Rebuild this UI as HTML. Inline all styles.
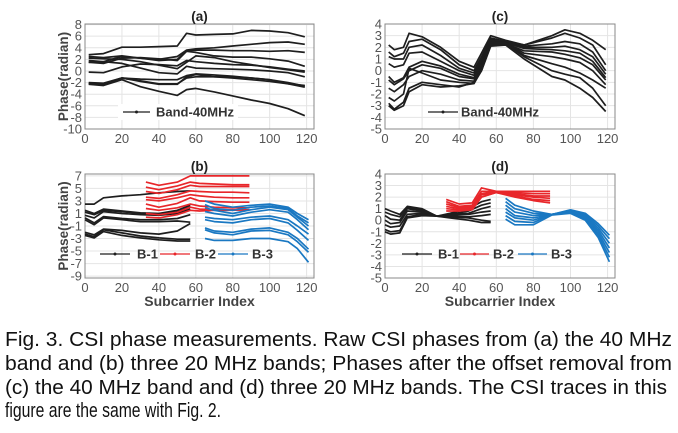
<!DOCTYPE html>
<html><head><meta charset="utf-8"><style>
body{margin:0;background:#fff;width:678px;height:428px;overflow:hidden}
svg text{font-family:"Liberation Sans",Arial,sans-serif}
</style></head><body>
<svg id="fig" width="678" height="428" viewBox="0 0 678 428">
<text x="5" y="346" font-size="20" textLength="667" lengthAdjust="spacingAndGlyphs" fill="#111">Fig. 3. CSI phase measurements. Raw CSI phases from (a) the 40 MHz</text>
<text x="5" y="370" font-size="20" textLength="667" lengthAdjust="spacingAndGlyphs" fill="#111">band and (b) three 20 MHz bands; Phases after the offset removal from</text>
<text x="5" y="394" font-size="20" textLength="662" lengthAdjust="spacingAndGlyphs" fill="#111">(c) the 40 MHz band and (d) three 20 MHz bands. The CSI traces in this</text>
<text x="5" y="417" font-size="20" textLength="216" lengthAdjust="spacingAndGlyphs" fill="#111">figure are the same with Fig. 2.</text>
</svg>
<script>
// ---- data ----
const xTicks = [0,20,40,60,80,100,120];
const aX = [2,10,20,30,40,50,55,60,70,80,90,100,110,119];
const aSeries = [
[2.8,3,4.1,4.1,4.2,4.3,6.5,6.2,6.3,6.4,7,6.9,6.6,5.9],
[2.5,2.3,2.6,2.2,2,2.5,3.6,3.8,4,4.3,4.6,4.9,5,4.6],
[1.8,1.6,2.5,2.2,1.8,2,3.5,3.6,3.6,3.5,3.5,3.4,3.5,3.2],
[1.5,1.3,2.2,2.3,2.1,1.8,3.4,3.2,2.6,2.4,2.4,2.1,1.7,0.8],
[2.2,2.1,2,1.6,1,0.4,1.5,2.6,2.3,1.6,1.1,0.6,0.2,-0.2],
[-0.2,-0.3,0.7,1.2,1.1,0.9,1.8,1.6,1.3,1.1,1,0.7,0.3,0],
[1.5,1.6,1.3,0.5,-0.3,-0.5,0.8,0.5,0.4,0.3,0.2,0,-0.3,-1],
[-2,-2.1,-1.2,-1.4,-1.5,-1.5,-0.8,-0.5,-0.7,-0.9,-1.2,-1.5,-2,-2.6],
[-2.2,-2.3,-1.2,-1.7,-2.2,-2.2,-1.2,-1,-1,-1,-1.2,-1.5,-2.2,-2.8],
[-2.3,-2.5,-1.5,-2.7,-3.5,-4.2,-3.2,-3,-3.6,-4.3,-5,-5.6,-6.5,-7.7],
[-2.1,-2.2,-1.2,-1.8,-2.3,-2.3,-1,-0.6,-1,-1.2,-1.5,-1.8,-2.2,-2.5]];
const aTicks = [8,6,4,2,0,-2,-4,-6,-8,-10];

const bX1 = [0,5,10,20,30,40,50,57];
const bX2 = [33,40,50,57,62,70,80,89];
const bX3 = [65,70,80,90,100,110,115,121];
const bB1 = [
[2.5,2.5,3.5,3.8,4,4.3,4.5,4.6],[1.5,1,1.7,1.4,1.1,1,1.5,2.3],[1.2,0.8,1.5,1.3,1,0.8,1.3,2],
[0.7,0.3,1.3,1,0.8,0.7,1,1.7],[0.3,-0.5,0.5,0.2,0,0,0.2,0.8],[0,-0.8,0.3,0,-0.3,-0.3,-0.2,-0.4],
[-2,-2.4,-1.5,-1.7,-2.1,-2.3,-1.8,-0.6],[-2.3,-2.7,-1.6,-2.1,-2.6,-2.9,-3.1,-3.1],[-2.5,-2.9,-1.9,-2.5,-2.9,-3.2,-3.4,-3.4]];
const bB2 = [
[6,5.5,6,7,7,7,7,7],[5.2,4.8,5.4,6,5.8,5.7,5.6,5.6],[4.5,4.2,4.8,5.5,5.3,5.3,5.3,5.3],
[3.6,3.4,4,4.6,4.5,4.4,4.4,4.3],[3.2,3,3.5,4,3.8,3.6,3.5,3.5],[2.5,2,2.6,3.5,3,2.9,2.8,2.8],
[1.8,1.5,1.9,2.5,2.2,2,1.9,1.9],[1,0.8,1.2,2,1.7,1.6,1.6,1.5],[0.4,0.3,0.8,1.5,1.4,1.5,1.5,1.6]];
const bB3 = [
[3,2.5,2,2.3,2.5,2,1,0],[2.4,1.8,1.5,2,2.2,1.8,0.6,-0.5],[1.9,1.5,1,1.6,2,1.6,0.4,-1],
[1.3,1,0.6,1.2,1.6,1.2,0,-1.6],[0.4,0.2,0,0.4,0.6,0,-1,-2.3],[0,-0.3,-0.5,0,0.2,-0.5,-1.7,-3.3],
[-1.3,-1.8,-2,-1.5,-1.3,-2,-3,-4.7],[-1.6,-2.1,-2.4,-1.8,-1.7,-2.4,-3.5,-5.2],[-3,-3.3,-3.3,-3,-3,-3.5,-4.6,-6.8]];
const bTicks = [7,5,3,1,-1,-3,-5,-7,-9];

const cX = [2,5,10,13,20,30,40,48,52,57,65,75,90,97,105,112,119];
const cSeries = [
[2.2,1.8,2,3.2,2.9,2,0.8,0.3,1.5,3,2.6,2.2,3,3.5,3.2,2.6,1.8],
[1.6,1.2,1.5,2.5,2.7,1.8,0.5,0,1.2,2.8,2.5,2.2,2.8,3.2,2.8,2.2,0.5],
[1.2,1,1,2,2.2,1.3,0.2,-0.2,1,2.7,2.5,2.1,2.3,2.5,2.3,1.6,0],
[0.6,0.3,0.5,1.5,1.6,0.8,0,-0.4,0.8,2.6,2.4,2,2,2.1,1.8,1.2,-0.3],
[-0.5,-1,-0.6,0.3,0.8,0.4,-0.3,-0.6,0.6,2.5,2.4,1.9,1.8,1.7,1.5,0.8,-0.6],
[-0.8,-1.2,-0.7,0,0.5,0.2,-0.5,-0.7,0.5,2.4,2.3,1.7,1.6,1.4,1.1,0.5,-0.8],
[-1.5,-1.8,-1.2,-0.5,0,-0.3,-0.8,-0.9,0.3,2.3,2.4,1.5,1.2,1,0.7,0,-1.2],
[-2.3,-2.6,-2,0.2,-0.2,-0.8,-1,-1.1,0.2,2.4,2.4,1.3,0.6,0.3,-0.2,-0.8,-1.5],
[-2.8,-3.3,-2.7,-1.5,-1,-1.2,-1.4,-1,0,2.2,2.3,1.2,0,-0.3,-0.6,-1.5,-3],
[-3,-3.4,-3,-1.8,-1.2,-1.4,-1.3,-1.1,0,2.1,2.2,1,-0.5,-0.8,-1.5,-2.3,-3.5]];
const cTicks = [4,3,2,1,0,-1,-2,-3,-4,-5];

const dX1 = [0,3,8,12,20,28,35,45,52,57];
const dX2 = [33,40,47,52,60,70,80,89];
const dX3 = [65,70,80,90,100,108,115,121];
const dB1 = [
[1,0.8,0.5,1.2,1,0.35,0.6,1,1.6,1.8],[0.7,0.5,0.3,1.1,0.9,0.35,0.5,0.8,1.3,1.5],
[0.4,0.1,0,1,0.8,0.35,0.5,0.6,1,1.2],[0,-0.3,-0.2,0.8,0.7,0.35,0.4,0.5,0.7,0.8],
[-0.4,-0.6,-0.5,0.5,0.6,0.35,0.3,0.3,0.4,0.5],[-0.8,-1,-0.9,0.3,0.5,0.35,0.3,0.2,0,-0.1],
[-1,-1.2,-1.1,0.2,0.4,0.35,0.2,0,-0.2,-0.2]];
const dB2 = [
[1.8,1.4,1.5,2.8,2.5,2.5,2.5,2.5],[1.6,1.2,1.3,2.5,2.5,2.4,2.3,2.3],[1.4,1.1,1.2,2.3,2.5,2.3,2.1,2.1],
[1.2,1,1.1,2.2,2.4,2.2,2,1.9],[1,0.9,1,2,2.4,2.1,1.8,1.7],[0.8,0.8,0.9,2,2.4,2,1.7,1.5]];
const dB3 = [
[1.9,1.3,0.8,0.5,0.9,0.6,-0.3,-1.3],[1.6,1,0.6,0.5,0.85,0.5,-0.5,-1.6],[1.3,0.7,0.4,0.5,0.8,0.4,-0.7,-2],
[1,0.4,0.2,0.5,0.75,0.3,-0.9,-2.4],[0.7,0.2,0,0.5,0.7,0.2,-1.1,-2.8],[0.4,-0.1,-0.2,0.5,0.65,0.1,-1.3,-3.2],
[0.1,-0.4,-0.4,0.45,0.6,0,-1.5,-3.6]];
const dTicks = [4,3,2,1,0,-1,-2,-3,-4,-5];

// ---- drawing ----
const NS='http://www.w3.org/2000/svg';
const svg=document.getElementById('fig');
function mk(tag,attrs,parent){const e=document.createElementNS(NS,tag);for(const k in attrs)e.setAttribute(k,attrs[k]);(parent||svg).appendChild(e);return e;}
function panel(name,L,R,T,B,xmin,xmax,ymin,ymax,yTicks,title,showYLabel,showXLabel){
  const g=mk('g',{});
  
  
  const sx=v=>L+(v-xmin)/(xmax-xmin)*(R-L);
  const sy=v=>B-(v-ymin)/(ymax-ymin)*(B-T);
  mk('rect',{x:L,y:T,width:R-L,height:B-T,fill:'#fff'},g);
  xTicks.forEach(t=>{
    mk('line',{x1:sx(t),x2:sx(t),y1:T,y2:B,stroke:'#e4e4e4','stroke-width':1},g);
    const tx=mk('text',{x:sx(t),y:B+14,'font-size':13,fill:'#555','text-anchor':'middle'},g);
    tx.textContent=t;
    
    
  });
  yTicks.forEach(t=>{
    mk('line',{x1:L,x2:R,y1:sy(t),y2:sy(t),stroke:'#e4e4e4','stroke-width':1},g);
    const ty=mk('text',{x:L-3,y:sy(t)+4.5,'font-size':13,fill:'#555','text-anchor':'end'},g);
    ty.textContent=t;
    
    
  });
  mk('rect',{x:L,y:T,width:R-L,height:B-T,fill:'none',stroke:'#888','stroke-width':1},g);
  const tt=mk('text',{x:(L+R)/2,y:T-3,'font-size':13.5,'font-weight':'bold',fill:'#222','text-anchor':'middle'},g);
  tt.textContent=title;
  
  
  if(showYLabel){
    const yl=mk('text',{x:0,y:0,'font-size':13.5,'font-weight':'bold',fill:'#444','text-anchor':'middle',transform:`translate(68,${(T+B)/2}) rotate(-90)`},g);
    yl.textContent='Phase(radian)';
    
    
  }
  if(showXLabel){
    const xl=mk('text',{x:(L+R)/2,y:B+28,'font-size':14,'font-weight':'bold',fill:'#444','text-anchor':'middle'},g);
    xl.textContent='Subcarrier Index';
    
    
  }
  return {g,sx,sy};
}
function lines(p,xs,series,color,nm){
  series.forEach(s=>{
    const pts=s.map((v,i)=>p.sx(xs[i]).toFixed(1)+','+p.sy(v).toFixed(1)).join(' ');
    const pl=mk('polyline',{points:pts,fill:'none',stroke:color,'stroke-width':1.7,'stroke-linejoin':'round'},p.g);
    
    
  });
}
function legend(p,x1,x2,y,color,label,tx){
  const l=mk('line',{x1:x1,x2:x2,y1:y,y2:y,stroke:color,'stroke-width':1.3},p.g);
  
  
  mk('circle',{cx:(x1+x2)/2,cy:y,r:1.5,fill:color},p.g);
  const t=mk('text',{x:tx,y:y+4.5,'font-size':13,'font-weight':'bold',fill:'#333'},p.g);
  t.textContent=label;
  
  
}
const BK='#1e1e1e',RD='#e8262a',BL='#1a78c2';
const pa=panel('a',85,314,24,129,0,124,-10,8.1,aTicks,'(a)',true,false);
lines(pa,aX,aSeries,BK,'trace-40mhz');
mk('rect',{x:118,y:104,width:120,height:16,fill:'#fff'},pa.g);
legend(pa,123,150,112,BK,'Band-40MHz',156);

const pb=panel('b',85,314,174,278,0,124,-9.3,7.3,bTicks,'(b)',true,true);
lines(pb,bX1,bB1,BK,'trace-b1');
lines(pb,bX2,bB2,RD,'trace-b2');
lines(pb,bX3,bB3,BL,'trace-b3');
legend(pb,100,130,254,BK,'B-1',137);
legend(pb,160,190,254,RD,'B-2',195);
legend(pb,218,248,254,BL,'B-3',252);

const pc=panel('c',385,615,24,129,0,124,-5,4,cTicks,'(c)',false,false);
lines(pc,cX,cSeries,BK,'trace-40mhz-corrected');
legend(pc,428,458,112,BK,'Band-40MHz',461);

const pd=panel('d',385,615,174,278,0,124,-5,4,dTicks,'(d)',false,true);
lines(pd,dX1,dB1,BK,'trace-b1-corrected');
lines(pd,dX2,dB2,RD,'trace-b2-corrected');
lines(pd,dX3,dB3,BL,'trace-b3-corrected');
legend(pd,402,432,254,BK,'B-1',438);
legend(pd,460,489,254,RD,'B-2',493);
legend(pd,518,547,254,BL,'B-3',551);
</script>
</body></html>
